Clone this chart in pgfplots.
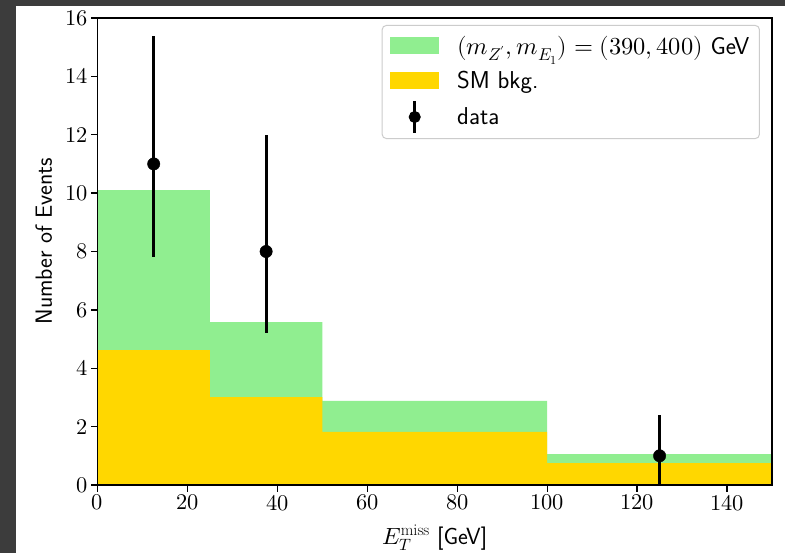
\documentclass[border=0pt]{standalone}
\usepackage{fontspec}
\setmainfont{Latin Modern Roman}
\setsansfont{Latin Modern Sans}
\usepackage{unicode-math}
\setmathfont{Latin Modern Math}
\usepackage{pgfplots}
\pgfplotsset{compat=1.18}
\definecolor{lgreen}{HTML}{90EE90}
\definecolor{gold}{HTML}{FFD700}
\definecolor{framegray}{HTML}{3C3C3C}
\begin{document}
\begin{tikzpicture}[x=1bp,y=1bp]
\fill[framegray] (0,0) rectangle (785,553);
\fill[white] (16,0) rectangle (785,547);
\begin{axis}[
  at={(97.5bp,68bp)}, anchor=south west,
  scale only axis, width=674.5bp, height=467bp,
  xmin=0, xmax=150, ymin=0, ymax=16,
  xtick={0,20,...,140}, ytick={0,2,...,16},
  tick align=outside, tick pos=left,
  major tick length=6.5bp,
  tick style={black, line width=1.3bp},
  axis line style={line width=1.6bp},
  axis on top,
  tick label style={font=\fontsize{22.5}{25}\selectfont},
  label style={font=\fontsize{23.5}{27}\selectfont\sffamily},
  xlabel={$E_T^{\mathrm{miss}}$ [GeV]},
  ylabel={Number of Events},
  xlabel style={at={(axis description cs:0.5,0)}, anchor=base, yshift=-59bp},
  ylabel style={at={(axis description cs:-0.0675,0.5225)}, anchor=base},
  legend style={at={(0.982,0.985)}, anchor=north east,
    draw=black!20, line width=1bp, rounded corners=4bp, fill=white,
    inner xsep=8bp, inner ysep=4bp,
    font=\fontsize{24.5}{28}\selectfont\sffamily,
    row sep=2bp,
    /tikz/every odd column/.append style={column sep=16bp}},
  legend cell align=left,
]
\addplot[const plot, fill=lgreen, draw=none,
  legend image code/.code={\path[draw=none,fill=none] (0bp,-16.5bp) rectangle (49bp,16.5bp); \fill[lgreen, sharp corners] (0bp,-8.5bp) rectangle (49bp,8.5bp);}]
  coordinates {(0,10.1) (25,5.58) (50,2.88) (100,1.06) (150,1.06)} \closedcycle;
\addlegendentry{$(m_{Z'}, m_{E_1}) = (390, 400)$ GeV}
\addplot[const plot, fill=gold, draw=none,
  legend image code/.code={\path[draw=none,fill=none] (0bp,-16.5bp) rectangle (49bp,16.5bp); \fill[gold, sharp corners] (0bp,-8.5bp) rectangle (49bp,8.5bp);}]
  coordinates {(0,4.62) (25,3.01) (50,1.82) (100,0.75) (150,0.75)} \closedcycle;
\addlegendentry{SM bkg.}
\addplot[black, only marks, mark=*, mark size=6.2bp,
  legend image code/.code={\path[draw=none,fill=none] (0bp,-16.5bp) rectangle (49bp,16.5bp); \draw[black, line width=3bp, sharp corners] (24.5bp,-16bp) -- (24.5bp,16bp); \fill[black] (24.5bp,0bp) circle (5.5bp);},
  error bars/.cd, y dir=both, y explicit,
  error bar style={line width=3bp, black}, error mark=none]
  coordinates {(12.5,11) += (0,4.38) -= (0,3.19)
               (37.5,8) += (0,4.0) -= (0,2.79)
               (125,1) += (0,1.4) -= (0,1)};
\addlegendentry{data}
\end{axis}
\end{tikzpicture}
\end{document}
